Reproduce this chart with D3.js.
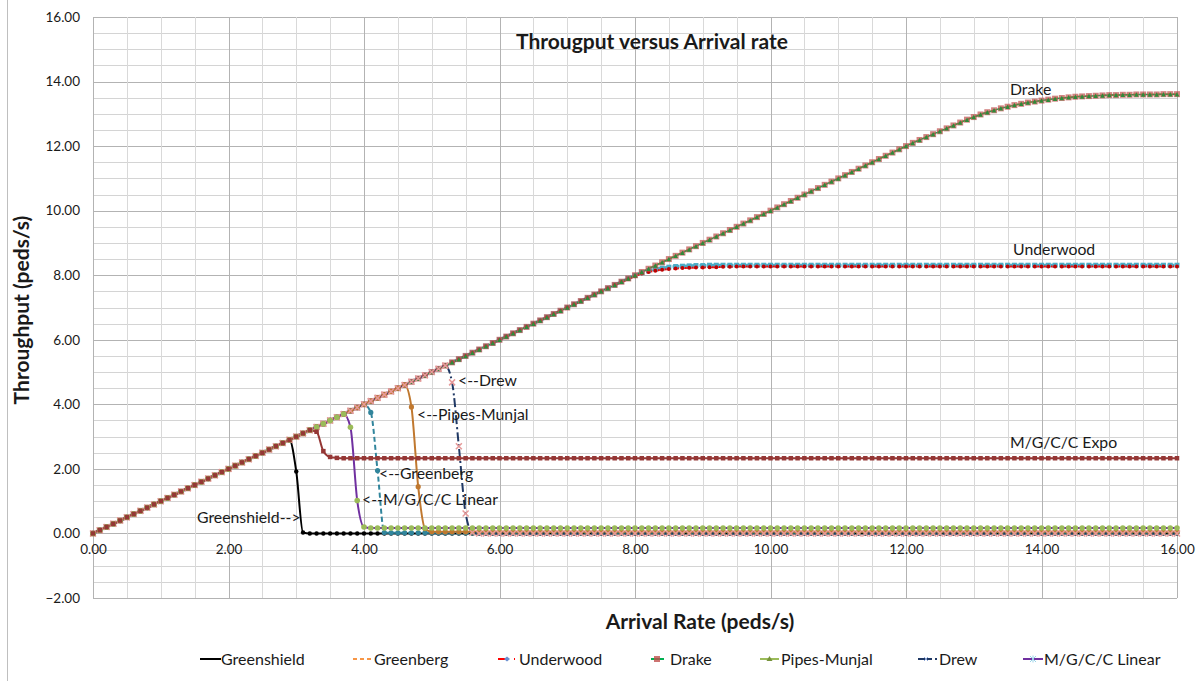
<!DOCTYPE html>
<html>
<head>
<meta charset="utf-8">
<title>Througput versus Arrival rate</title>
<script src="https://cdn.jsdelivr.net/npm/d3@7"></script>
<style>
  body { margin: 0; background: #fff; }
  text { font-family: Lato, "Open Sans", sans-serif; fill: #1a1a1a; }
</style>
</head>
<body>
<svg id="chart" width="1203" height="681"></svg>
<script>
// arrival rate categories (peds/s), one row per whole unit
var arrival = [
  0,0.1,0.2,0.3,0.4,0.5,0.6,0.7,0.8,0.9,
  1,1.1,1.2,1.3,1.4,1.5,1.6,1.7,1.8,1.9,
  2,2.1,2.2,2.3,2.4,2.5,2.6,2.7,2.8,2.9,
  3,3.1,3.2,3.3,3.4,3.5,3.6,3.7,3.8,3.9,
  4,4.1,4.2,4.3,4.4,4.5,4.6,4.7,4.8,4.9,
  5,5.1,5.2,5.3,5.4,5.5,5.6,5.7,5.8,5.9,
  6,6.1,6.2,6.3,6.4,6.5,6.6,6.7,6.8,6.9,
  7,7.1,7.2,7.3,7.4,7.5,7.6,7.7,7.8,7.9,
  8,8.1,8.2,8.3,8.4,8.5,8.6,8.7,8.8,8.9,
  9,9.1,9.2,9.3,9.4,9.5,9.6,9.7,9.8,9.9,
  10,10.1,10.2,10.3,10.4,10.5,10.6,10.7,10.8,10.9,
  11,11.1,11.2,11.3,11.4,11.5,11.6,11.7,11.8,11.9,
  12,12.1,12.2,12.3,12.4,12.5,12.6,12.7,12.8,12.9,
  13,13.1,13.2,13.3,13.4,13.5,13.6,13.7,13.8,13.9,
  14,14.1,14.2,14.3,14.4,14.5,14.6,14.7,14.8,14.9,
  15,15.1,15.2,15.3,15.4,15.5,15.6,15.7,15.8,15.9,
  16];

// throughput (peds/s)
var drake = [
  0,0.1,0.2,0.3,0.4,0.5,0.6,0.7,0.8,0.9,
  1,1.1,1.2,1.3,1.4,1.5,1.6,1.7,1.8,1.9,
  2,2.1,2.2,2.3,2.4,2.5,2.6,2.7,2.8,2.9,
  3,3.1,3.2,3.3,3.4,3.5,3.6,3.7,3.8,3.9,
  4,4.1,4.2,4.3,4.4,4.5,4.6,4.7,4.8,4.9,
  5,5.1,5.2,5.3,5.4,5.5,5.6,5.7,5.8,5.9,
  6,6.1,6.2,6.3,6.4,6.5,6.6,6.7,6.8,6.9,
  7,7.1,7.2,7.3,7.4,7.5,7.6,7.7,7.8,7.9,
  8,8.1,8.2,8.3,8.4,8.5,8.6,8.7,8.8,8.9,
  9,9.1,9.2,9.3,9.4,9.5,9.6,9.7,9.8,9.9,
  10,10.1,10.2,10.3,10.4,10.5,10.6,10.7,10.8,10.9,
  11,11.1,11.2,11.3,11.4,11.5,11.6,11.7,11.8,11.9,
  12,12.1,12.19,12.28,12.37,12.46,12.55,12.64,12.73,12.82,
  12.9,12.98,13.05,13.11,13.17,13.22,13.27,13.31,13.35,13.38,
  13.41,13.44,13.47,13.49,13.51,13.53,13.54,13.55,13.56,13.57,
  13.58,13.58,13.59,13.59,13.6,13.6,13.6,13.6,13.61,13.61,
  13.61];

var underwoodA = [
  0,0.1,0.2,0.3,0.4,0.5,0.6,0.7,0.8,0.9,
  1,1.1,1.2,1.3,1.4,1.5,1.6,1.7,1.8,1.9,
  2,2.1,2.2,2.3,2.4,2.5,2.6,2.7,2.8,2.9,
  3,3.1,3.2,3.3,3.4,3.5,3.6,3.7,3.8,3.9,
  4,4.1,4.2,4.3,4.4,4.5,4.6,4.7,4.8,4.9,
  5,5.1,5.2,5.3,5.4,5.5,5.6,5.7,5.8,5.9,
  6,6.1,6.2,6.3,6.4,6.5,6.6,6.7,6.8,6.9,
  7,7.1,7.2,7.3,7.4,7.5,7.6,7.7,7.8,7.9,
  7.99,8.08,8.14,8.19,8.22,8.25,8.27,8.28,8.29,8.3,
  8.3,8.31,8.31,8.31,8.31,8.31,8.31,8.31,8.31,8.31,
  8.31,8.31,8.31,8.31,8.31,8.31,8.31,8.31,8.31,8.31,
  8.31,8.31,8.31,8.31,8.31,8.31,8.31,8.31,8.31,8.31,
  8.31,8.31,8.31,8.31,8.31,8.31,8.31,8.31,8.31,8.31,
  8.31,8.31,8.31,8.31,8.31,8.31,8.31,8.31,8.31,8.31,
  8.31,8.31,8.31,8.31,8.31,8.31,8.31,8.31,8.31,8.31,
  8.31,8.31,8.31,8.31,8.31,8.31,8.31,8.31,8.31,8.31,
  8.31];

var underwoodB = [
  0,0.1,0.2,0.3,0.4,0.5,0.6,0.7,0.8,0.9,
  1,1.1,1.2,1.3,1.4,1.5,1.6,1.7,1.8,1.9,
  2,2.1,2.2,2.3,2.4,2.5,2.6,2.7,2.8,2.9,
  3,3.1,3.2,3.3,3.4,3.5,3.6,3.7,3.8,3.9,
  4,4.1,4.2,4.3,4.4,4.5,4.6,4.7,4.8,4.9,
  5,5.1,5.2,5.3,5.4,5.5,5.6,5.7,5.8,5.9,
  6,6.1,6.2,6.3,6.4,6.5,6.6,6.7,6.8,6.9,
  7,7.1,7.2,7.3,7.4,7.5,7.6,7.7,7.79,7.88,
  7.97,8.05,8.1,8.14,8.17,8.19,8.21,8.22,8.23,8.24,
  8.24,8.25,8.25,8.26,8.26,8.27,8.27,8.27,8.27,8.27,
  8.27,8.27,8.27,8.27,8.27,8.27,8.27,8.27,8.27,8.27,
  8.27,8.27,8.27,8.27,8.27,8.27,8.27,8.27,8.27,8.27,
  8.27,8.27,8.27,8.27,8.27,8.27,8.27,8.27,8.27,8.27,
  8.27,8.27,8.27,8.27,8.27,8.27,8.27,8.27,8.27,8.27,
  8.27,8.27,8.27,8.27,8.27,8.27,8.27,8.27,8.27,8.27,
  8.27,8.27,8.27,8.27,8.27,8.27,8.27,8.27,8.27,8.27,
  8.27];

var expo = [
  0,0.1,0.2,0.3,0.4,0.5,0.6,0.7,0.8,0.9,
  1,1.1,1.2,1.3,1.4,1.5,1.6,1.7,1.8,1.9,
  2,2.1,2.2,2.3,2.4,2.5,2.6,2.7,2.8,2.9,
  3,3.1,3.2,3.15,2.55,2.37,2.34,2.33,2.33,2.33,
  2.33,2.33,2.33,2.33,2.33,2.33,2.33,2.33,2.33,2.33,
  2.33,2.33,2.33,2.33,2.33,2.33,2.33,2.33,2.33,2.33,
  2.33,2.33,2.33,2.33,2.33,2.33,2.33,2.33,2.33,2.33,
  2.33,2.33,2.33,2.33,2.33,2.33,2.33,2.33,2.33,2.33,
  2.33,2.33,2.33,2.33,2.33,2.33,2.33,2.33,2.33,2.33,
  2.33,2.33,2.33,2.33,2.33,2.33,2.33,2.33,2.33,2.33,
  2.33,2.33,2.33,2.33,2.33,2.33,2.33,2.33,2.33,2.33,
  2.33,2.33,2.33,2.33,2.33,2.33,2.33,2.33,2.33,2.33,
  2.33,2.33,2.33,2.33,2.33,2.33,2.33,2.33,2.33,2.33,
  2.33,2.33,2.33,2.33,2.33,2.33,2.33,2.33,2.33,2.33,
  2.33,2.33,2.33,2.33,2.33,2.33,2.33,2.33,2.33,2.33,
  2.33,2.33,2.33,2.33,2.33,2.33,2.33,2.33,2.33,2.33,
  2.33];

var greenshield = [
  0,0.1,0.2,0.3,0.4,0.5,0.6,0.7,0.8,0.9,
  1,1.1,1.2,1.3,1.4,1.5,1.6,1.7,1.8,1.9,
  2,2.1,2.2,2.3,2.4,2.5,2.6,2.7,2.8,2.9,
  1.92,0.03,0,0,0,0,0,0,0,0,
  0,0,0,0,0,0,0,0,0,0,
  0,0,0,0,0,0,0,0,0,0,
  0,0,0,0,0,0,0,0,0,0,
  0,0,0,0,0,0,0,0,0,0,
  0,0,0,0,0,0,0,0,0,0,
  0,0,0,0,0,0,0,0,0,0,
  0,0,0,0,0,0,0,0,0,0,
  0,0,0,0,0,0,0,0,0,0,
  0,0,0,0,0,0,0,0,0,0,
  0,0,0,0,0,0,0,0,0,0,
  0,0,0,0,0,0,0,0,0,0,
  0,0,0,0,0,0,0,0,0,0,
  0];

var mgccLinear = [
  0,0.1,0.2,0.3,0.4,0.5,0.6,0.7,0.8,0.9,
  1,1.1,1.2,1.3,1.4,1.5,1.6,1.7,1.8,1.9,
  2,2.1,2.2,2.3,2.4,2.5,2.6,2.7,2.8,2.9,
  3,3.1,3.2,3.3,3.4,3.5,3.6,3.7,3.29,1.02,
  0.2,0.17,0.17,0.17,0.17,0.17,0.17,0.17,0.17,0.17,
  0.17,0.17,0.17,0.17,0.17,0.17,0.17,0.17,0.17,0.17,
  0.17,0.17,0.17,0.17,0.17,0.17,0.17,0.17,0.17,0.17,
  0.17,0.17,0.17,0.17,0.17,0.17,0.17,0.17,0.17,0.17,
  0.17,0.17,0.17,0.17,0.17,0.17,0.17,0.17,0.17,0.17,
  0.17,0.17,0.17,0.17,0.17,0.17,0.17,0.17,0.17,0.17,
  0.17,0.17,0.17,0.17,0.17,0.17,0.17,0.17,0.17,0.17,
  0.17,0.17,0.17,0.17,0.17,0.17,0.17,0.17,0.17,0.17,
  0.17,0.17,0.17,0.17,0.17,0.17,0.17,0.17,0.17,0.17,
  0.17,0.17,0.17,0.17,0.17,0.17,0.17,0.17,0.17,0.17,
  0.17,0.17,0.17,0.17,0.17,0.17,0.17,0.17,0.17,0.17,
  0.17,0.17,0.17,0.17,0.17,0.17,0.17,0.17,0.17,0.17,
  0.17];

var greenberg = [
  0,0.1,0.2,0.3,0.4,0.5,0.6,0.7,0.8,0.9,
  1,1.1,1.2,1.3,1.4,1.5,1.6,1.7,1.8,1.9,
  2,2.1,2.2,2.3,2.4,2.5,2.6,2.7,2.8,2.9,
  3,3.1,3.2,3.3,3.4,3.5,3.6,3.7,3.8,3.9,
  4,3.75,1.95,0.03,0.02,0.02,0.02,0.02,0.02,0.02,
  0.02,0.02,0.02,0.02,0.02,0.02,0.02,0.02,0.02,0.02,
  0.02,0.02,0.02,0.02,0.02,0.02,0.02,0.02,0.02,0.02,
  0.02,0.02,0.02,0.02,0.02,0.02,0.02,0.02,0.02,0.02,
  0.02,0.02,0.02,0.02,0.02,0.02,0.02,0.02,0.02,0.02,
  0.02,0.02,0.02,0.02,0.02,0.02,0.02,0.02,0.02,0.02,
  0.02,0.02,0.02,0.02,0.02,0.02,0.02,0.02,0.02,0.02,
  0.02,0.02,0.02,0.02,0.02,0.02,0.02,0.02,0.02,0.02,
  0.02,0.02,0.02,0.02,0.02,0.02,0.02,0.02,0.02,0.02,
  0.02,0.02,0.02,0.02,0.02,0.02,0.02,0.02,0.02,0.02,
  0.02,0.02,0.02,0.02,0.02,0.02,0.02,0.02,0.02,0.02,
  0.02,0.02,0.02,0.02,0.02,0.02,0.02,0.02,0.02,0.02,
  0.02];

var pipesMunjal = [
  0,0.1,0.2,0.3,0.4,0.5,0.6,0.7,0.8,0.9,
  1,1.1,1.2,1.3,1.4,1.5,1.6,1.7,1.8,1.9,
  2,2.1,2.2,2.3,2.4,2.5,2.6,2.7,2.8,2.9,
  3,3.1,3.2,3.3,3.4,3.5,3.6,3.7,3.8,3.9,
  4,4.1,4.2,4.3,4.4,4.5,4.6,3.92,1.45,0.15,
  0.05,0.05,0.05,0.05,0.05,0.05,0.05,0.05,0.05,0.05,
  0.05,0.05,0.05,0.05,0.05,0.05,0.05,0.05,0.05,0.05,
  0.05,0.05,0.05,0.05,0.05,0.05,0.05,0.05,0.05,0.05,
  0.05,0.05,0.05,0.05,0.05,0.05,0.05,0.05,0.05,0.05,
  0.05,0.05,0.05,0.05,0.05,0.05,0.05,0.05,0.05,0.05,
  0.05,0.05,0.05,0.05,0.05,0.05,0.05,0.05,0.05,0.05,
  0.05,0.05,0.05,0.05,0.05,0.05,0.05,0.05,0.05,0.05,
  0.05,0.05,0.05,0.05,0.05,0.05,0.05,0.05,0.05,0.05,
  0.05,0.05,0.05,0.05,0.05,0.05,0.05,0.05,0.05,0.05,
  0.05,0.05,0.05,0.05,0.05,0.05,0.05,0.05,0.05,0.05,
  0.05,0.05,0.05,0.05,0.05,0.05,0.05,0.05,0.05,0.05,
  0.05];

var drew = [
  0,0.1,0.2,0.3,0.4,0.5,0.6,0.7,0.8,0.9,
  1,1.1,1.2,1.3,1.4,1.5,1.6,1.7,1.8,1.9,
  2,2.1,2.2,2.3,2.4,2.5,2.6,2.7,2.8,2.9,
  3,3.1,3.2,3.3,3.4,3.5,3.6,3.7,3.8,3.9,
  4,4.1,4.2,4.3,4.4,4.5,4.6,4.7,4.8,4.9,
  5,5.1,5.2,4.68,2.7,0.62,0.03,0,0,0,
  0,0,0,0,0,0,0,0,0,0,
  0,0,0,0,0,0,0,0,0,0,
  0,0,0,0,0,0,0,0,0,0,
  0,0,0,0,0,0,0,0,0,0,
  0,0,0,0,0,0,0,0,0,0,
  0,0,0,0,0,0,0,0,0,0,
  0,0,0,0,0,0,0,0,0,0,
  0,0,0,0,0,0,0,0,0,0,
  0,0,0,0,0,0,0,0,0,0,
  0,0,0,0,0,0,0,0,0,0,
  0];

var xTicks = [0, 2, 4, 6, 8, 10, 12, 14, 16];
var yTicks = [-2, 0, 2, 4, 6, 8, 10, 12, 14, 16];
var legendNames = ["Greenshield", "Greenberg", "Underwood", "Drake", "Pipes-Munjal", "Drew", "M/G/C/C Linear"];

var svg = d3.select("#chart");
var plotL = 93, plotR = 1177, plotT = 17, plotB = 598;

var x = d3.scaleLinear().domain([0, 16]).range([plotL, plotR]);
var y = d3.scaleLinear().domain([-2, 16]).range([plotB, plotT]);

// outer chart border
svg.append("line").attr("x1", 7.5).attr("x2", 7.5).attr("y1", 0).attr("y2", 681)
  .attr("stroke", "#bfbfbf");

// gridlines: minor every 0.5, major every 2
var minorY = d3.range(-2, 16.01, 0.5);
var minorX = d3.range(0, 16.01, 0.5);
svg.append("g").selectAll("line").data(minorY).join("line")
  .attr("x1", plotL).attr("x2", plotR)
  .attr("y1", d => Math.round(y(d)) + 0.5).attr("y2", d => Math.round(y(d)) + 0.5)
  .attr("stroke", d => d % 2 === 0 ? "#b3b3b3" : "#d4d4d4");
svg.append("g").selectAll("line").data(minorX).join("line")
  .attr("y1", plotT).attr("y2", plotB)
  .attr("x1", d => Math.round(x(d)) + 0.5).attr("x2", d => Math.round(x(d)) + 0.5)
  .attr("stroke", d => d % 2 === 0 ? "#b3b3b3" : "#d9d9d9");

// axes (labels only, lines come from the grid)
var yAxis = svg.append("g").attr("transform", "translate(" + plotL + ",0)")
  .call(d3.axisLeft(y).tickValues(yTicks).tickFormat(d3.format(".2f")).tickSize(0).tickPadding(13));
var xAxis = svg.append("g").attr("transform", "translate(0," + y(0) + ")")
  .call(d3.axisBottom(x).tickValues(xTicks).tickFormat(d3.format(".2f")).tickSize(0).tickPadding(11));
[yAxis, xAxis].forEach(function(a) {
  a.select(".domain").remove();
  a.selectAll("text").attr("font-family", "Lato, sans-serif").attr("font-size", 13.5).attr("fill", "#1a1a1a");
});

// series layers, drawn in this order
var layers = [
  {v: drake, stroke: "#f79646", width: 2, dash: "5,3"},
  {v: underwoodA, stroke: "#4bacc6", width: 3, dash: "7,2", marker: "square", mfill: "#4bacc6", ms: 5},
  {v: underwoodB, stroke: "#ff0000", width: 2, dash: "6,3", marker: "circle", mfill: "#c00000", ms: 2},
  {v: drake, stroke: "none", marker: "square", mfill: "#c0504d", mop: 0.7, ms: 6},
  {v: drake, stroke: "#00b050", width: 1.5, marker: "triangle", mfill: "#2e8b3a", ms: 4.5},
  {v: greenshield, stroke: "#000000", width: 2, marker: "circle", mfill: "#000000", ms: 2.2},
  {v: greenberg, stroke: "#31859c", width: 2, dash: "5,3", marker: "circle", mfill: "#31859c", ms: 2.6},
  {v: pipesMunjal, stroke: "#c0782f", width: 2, marker: "circle", mfill: "#c0782f", ms: 2.6},
  {v: drew, stroke: "#1f3864", width: 2, dash: "9,3,2,3", marker: "cross", mfill: "#e69a9a", ms: 3},
  {v: mgccLinear, stroke: "#7030a0", width: 2, marker: "circle", mfill: "#9bbb59", ms: 2.8},
  {v: expo, stroke: "#953735", width: 2, marker: "square", mfill: "#953735", ms: 4.5}
];

var line = d3.line()
  .x((d, i) => x(arrival[i]))
  .y(d => y(d))
  .curve(d3.curveMonotoneX);

var lineG = svg.append("g");
var markG = svg.append("g");

layers.forEach(function(s) {
  if (s.stroke !== "none") {
    lineG.append("path").datum(s.v)
      .attr("d", line)
      .attr("fill", "none")
      .attr("stroke", s.stroke)
      .attr("stroke-width", s.width)
      .attr("stroke-dasharray", s.dash || null);
  }
  if (!s.marker) return;
  var g = markG.append("g").attr("opacity", s.mop || 1);
  var pts = s.v.map((d, i) => [x(arrival[i]), y(d)]);
  if (s.marker === "circle") {
    g.selectAll("circle").data(pts).join("circle")
      .attr("cx", d => d[0]).attr("cy", d => d[1]).attr("r", s.ms).attr("fill", s.mfill);
  } else if (s.marker === "square") {
    g.selectAll("rect").data(pts).join("rect")
      .attr("x", d => d[0] - s.ms / 2).attr("y", d => d[1] - s.ms / 2)
      .attr("width", s.ms).attr("height", s.ms).attr("fill", s.mfill);
  } else if (s.marker === "triangle") {
    g.selectAll("path").data(pts).join("path")
      .attr("d", d => "M" + d[0] + "," + (d[1] - s.ms / 2) + "l" + (s.ms / 2) + "," + s.ms + "h" + (-s.ms) + "z")
      .attr("fill", s.mfill);
  } else if (s.marker === "cross") {
    g.selectAll("path").data(pts).join("path")
      .attr("d", d => "M" + (d[0] - s.ms) + "," + (d[1] - s.ms) + "l" + 2 * s.ms + "," + 2 * s.ms +
                      "M" + (d[0] - s.ms) + "," + (d[1] + s.ms) + "l" + 2 * s.ms + "," + (-2 * s.ms))
      .attr("stroke", s.mfill).attr("stroke-width", 1.5);
  }
});

// annotation labels beside the curves
var notes = [
  ["Drake", 1010, 89], ["Underwood", 1013, 249], ["M/G/C/C Expo", 1010, 442],
  ["<--Drew", 458, 380], ["<--Pipes-Munjal", 417, 414], ["<--Greenberg", 379, 473],
  ["<--M/G/C/C Linear", 362, 499], ["Greenshield-->", 197, 517]
];
svg.append("g").selectAll("text").data(notes).join("text")
  .attr("x", d => d[1]).attr("y", d => d[2]).attr("dy", "0.35em")
  .attr("font-size", 15.8).text(d => d[0]);

// titles
svg.append("text").attr("x", 652).attr("y", 42).attr("dy", "0.35em")
  .attr("text-anchor", "middle").attr("font-weight", "bold").attr("font-size", 21)
  .text("Througput versus Arrival rate");
svg.append("text").attr("x", 700).attr("y", 622).attr("dy", "0.35em")
  .attr("text-anchor", "middle").attr("font-weight", "bold").attr("font-size", 21)
  .text("Arrival Rate (peds/s)");
svg.append("text").attr("transform", "translate(22,310) rotate(-90)").attr("dy", "0.35em")
  .attr("text-anchor", "middle").attr("font-weight", "bold").attr("font-size", 21)
  .text("Throughput (peds/s)");

// legend
var legendX = [200, 353, 498, 651, 760, 918, 1023];
var lg = svg.append("g");
legendNames.forEach(function(name, i) {
  var lx = legendX[i], ly = 659;
  var g = lg.append("g");
  if (i === 0) {
    g.append("line").attr("x1", lx).attr("x2", lx + 21).attr("y1", ly).attr("y2", ly).attr("stroke", "#000").attr("stroke-width", 2);
  } else if (i === 1) {
    g.append("line").attr("x1", lx).attr("x2", lx + 19).attr("y1", ly).attr("y2", ly).attr("stroke", "#f79646").attr("stroke-width", 2).attr("stroke-dasharray", "4,3");
  } else if (i === 2) {
    g.append("line").attr("x1", lx).attr("x2", lx + 10).attr("y1", ly).attr("y2", ly).attr("stroke", "#ff0000").attr("stroke-width", 2);
    g.append("path").attr("d", "M" + (lx + 6) + "," + ly + "l3,-2.5l3,2.5l-3,2.5z").attr("fill", "#6a8fd0");
    g.append("line").attr("x1", lx + 16).attr("x2", lx + 19).attr("y1", ly).attr("y2", ly).attr("stroke", "#ff0000").attr("stroke-width", 2).attr("stroke-dasharray", "1,2");
  } else if (i === 3) {
    g.append("line").attr("x1", lx).attr("x2", lx + 13).attr("y1", ly).attr("y2", ly).attr("stroke", "#00b050").attr("stroke-width", 2);
    g.append("rect").attr("x", lx + 3).attr("y", ly - 3).attr("width", 6).attr("height", 6).attr("fill", "#c0504d").attr("opacity", 0.8);
  } else if (i === 4) {
    g.append("line").attr("x1", lx).attr("x2", lx + 19).attr("y1", ly).attr("y2", ly).attr("stroke", "#9bbb59").attr("stroke-width", 2);
    g.append("path").attr("d", "M" + (lx + 9.5) + "," + (ly - 3) + "l3,5h-6z").attr("fill", "#77933c");
  } else if (i === 5) {
    g.append("line").attr("x1", lx).attr("x2", lx + 14).attr("y1", ly).attr("y2", ly).attr("stroke", "#1f3864").attr("stroke-width", 2);
    g.append("path").attr("d", "M" + (lx + 6) + "," + (ly - 2) + "l4,4M" + (lx + 6) + "," + (ly + 2) + "l4,-4").attr("stroke", "#8fa9d9").attr("stroke-width", 1);
    g.append("line").attr("x1", lx + 17).attr("x2", lx + 19).attr("y1", ly).attr("y2", ly).attr("stroke", "#1f3864").attr("stroke-width", 2);
  } else {
    g.append("line").attr("x1", lx).attr("x2", lx + 20).attr("y1", ly).attr("y2", ly).attr("stroke", "#7030a0").attr("stroke-width", 2);
    g.append("path").attr("d", "M" + (lx + 7) + "," + (ly - 3) + "l6,6M" + (lx + 7) + "," + (ly + 3) + "l6,-6M" + (lx + 10) + "," + (ly - 3.5) + "v7")
      .attr("stroke", "#9ad3e8").attr("stroke-width", 1);
  }
  g.append("text").attr("x", legendX[i] + (i === 3 ? 19 : 21)).attr("y", ly).attr("dy", "0.35em")
    .attr("font-size", 16).text(name);
});
</script>
</body>
</html>
